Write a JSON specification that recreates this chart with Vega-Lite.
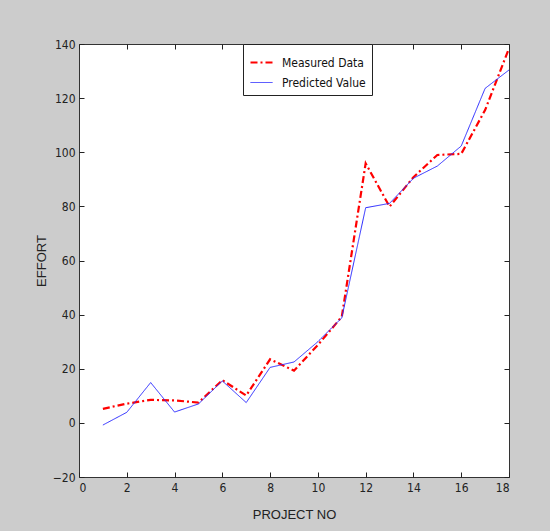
{
  "$schema": "https://vega.github.io/schema/vega-lite/v6.json",
  "autosize": "none",
  "width": 430,
  "height": 433,
  "padding": {"left": 79, "top": 44, "right": 41, "bottom": 54},
  "background": "#cccccc",
  "config": {
    "view": {"fill": "white", "stroke": "#333333", "strokeWidth": 1},
    "font": "DejaVu Sans Condensed, Liberation Sans, sans-serif",
    "axis": {
      "grid": false,
      "domain": false,
      "tickSize": -5,
      "tickColor": "#222222",
      "labelFont": "DejaVu Sans Condensed, Liberation Sans, sans-serif",
      "labelFontSize": 12,
      "labelColor": "#222222",
      "titleFont": "Liberation Sans, sans-serif",
      "titleFontSize": 13,
      "titleFontWeight": "normal",
      "titleColor": "#222222"
    }
  },
  "data": {
    "values": [
      {"p": 1, "v": 5.2, "s": "Measured Data"},
      {"p": 2, "v": 7.1, "s": "Measured Data"},
      {"p": 3, "v": 8.5, "s": "Measured Data"},
      {"p": 4, "v": 8.3, "s": "Measured Data"},
      {"p": 5, "v": 7.5, "s": "Measured Data"},
      {"p": 6, "v": 15.8, "s": "Measured Data"},
      {"p": 7, "v": 10.1, "s": "Measured Data"},
      {"p": 8, "v": 23.5, "s": "Measured Data"},
      {"p": 9, "v": 19.3, "s": "Measured Data"},
      {"p": 10, "v": 28.8, "s": "Measured Data"},
      {"p": 11, "v": 39.2, "s": "Measured Data"},
      {"p": 12, "v": 95.9, "s": "Measured Data"},
      {"p": 13, "v": 79.9, "s": "Measured Data"},
      {"p": 14, "v": 90.8, "s": "Measured Data"},
      {"p": 15, "v": 99.0, "s": "Measured Data"},
      {"p": 16, "v": 99.4, "s": "Measured Data"},
      {"p": 17, "v": 115.6, "s": "Measured Data"},
      {"p": 18, "v": 138.4, "s": "Measured Data"},
      {"p": 1, "v": -0.8, "s": "Predicted Value"},
      {"p": 2, "v": 3.9, "s": "Predicted Value"},
      {"p": 3, "v": 14.9, "s": "Predicted Value"},
      {"p": 4, "v": 4.0, "s": "Predicted Value"},
      {"p": 5, "v": 7.0, "s": "Predicted Value"},
      {"p": 6, "v": 15.5, "s": "Predicted Value"},
      {"p": 7, "v": 7.5, "s": "Predicted Value"},
      {"p": 8, "v": 20.5, "s": "Predicted Value"},
      {"p": 9, "v": 22.5, "s": "Predicted Value"},
      {"p": 10, "v": 30.0, "s": "Predicted Value"},
      {"p": 11, "v": 38.8, "s": "Predicted Value"},
      {"p": 12, "v": 79.5, "s": "Predicted Value"},
      {"p": 13, "v": 81.1, "s": "Predicted Value"},
      {"p": 14, "v": 90.4, "s": "Predicted Value"},
      {"p": 15, "v": 94.9, "s": "Predicted Value"},
      {"p": 16, "v": 102.3, "s": "Predicted Value"},
      {"p": 17, "v": 123.6, "s": "Predicted Value"},
      {"p": 18, "v": 130.4, "s": "Predicted Value"}
    ]
  },
  "layer": [
    {
      "mark": {"type": "line", "clip": true},
      "encoding": {
        "x": {
          "field": "p", "type": "quantitative",
          "scale": {"domain": [0, 18], "nice": false, "zero": false},
          "axis": {"orient": "bottom", "values": [0,2,4,6,8,10,12,14,16,18], "title": "PROJECT NO", "labelPadding": 10, "titlePadding": 15}
        },
        "y": {
          "field": "v", "type": "quantitative",
          "scale": {"domain": [-20, 140], "nice": false, "zero": false},
          "axis": {"orient": "left", "values": [-20,0,20,40,60,80,100,120,140], "title": "EFFORT", "labelPadding": 9, "titlePadding": 4}
        },
        "color": {
          "field": "s", "type": "nominal",
          "scale": {"domain": ["Measured Data", "Predicted Value"], "range": ["#ff0000", "#2a2aff"]},
          "legend": {
            "title": null,
            "orient": "none",
            "legendX": 164,
            "legendY": 0,
            "fillColor": "white",
            "strokeColor": "#222222",
            "padding": 6,
            "rowPadding": 2,
            "labelFont": "DejaVu Sans Condensed, Liberation Sans, sans-serif",
            "labelFontSize": 12,
            "labelColor": "#111111",
            "symbolType": "stroke",
            "symbolSize": 484,
            "labelOffset": 8
          }
        },
        "strokeDash": {
          "field": "s", "type": "nominal",
          "scale": {"domain": ["Measured Data", "Predicted Value"], "range": [[7, 3, 2, 3], [1, 0]]},
          "legend": null
        },
        "strokeWidth": {
          "field": "s", "type": "nominal",
          "scale": {"domain": ["Measured Data", "Predicted Value"], "range": [2.2, 1]},
          "legend": null
        }
      }
    },
    {
      "mark": {"type": "line", "opacity": 0},
      "encoding": {
        "x": {
          "field": "p", "type": "quantitative",
          "axis": {"orient": "top", "values": [0,2,4,6,8,10,12,14,16,18], "labels": false, "title": null}
        },
        "y": {
          "field": "v", "type": "quantitative",
          "axis": {"orient": "right", "values": [-20,0,20,40,60,80,100,120,140], "labels": false, "title": null}
        },
        "detail": {"field": "s"}
      }
    }
  ],
  "resolve": {"axis": {"x": "independent", "y": "independent"}}
}
